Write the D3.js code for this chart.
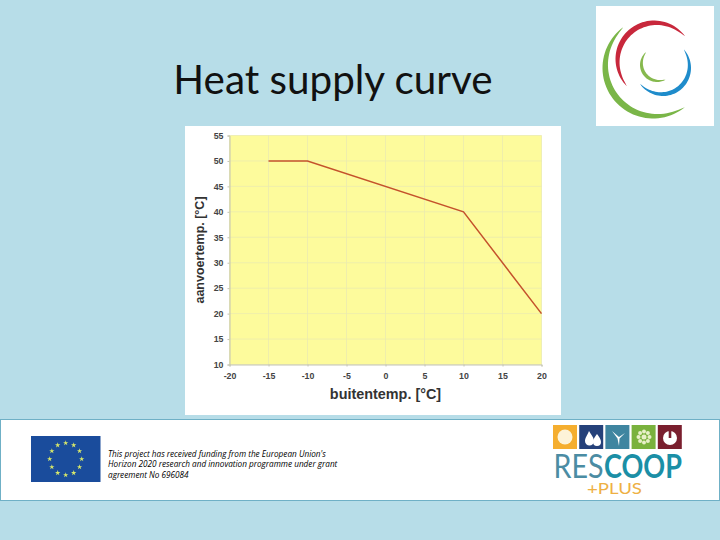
<!DOCTYPE html>
<html>
<head>
<meta charset="utf-8">
<script src="https://cdn.jsdelivr.net/npm/d3@7"></script>
<style>
html, body { margin: 0; padding: 0; background: #b7dde8; }
svg { display: block; }
</style>
</head>
<body>
<script>
// values
const outsideTemp = [-15, -10, 10, 20];
const supplyTemp = [50, 50, 40, 20];
const xTicks = [-20, -15, -10, -5, 0, 5, 10, 15, 20];
const yTicks = [10, 15, 20, 25, 30, 35, 40, 45, 50, 55];
const fundingLines = [
    "This project has received funding from the European Union's",
    "Horizon 2020 research and innovation programme under grant",
    "agreement No 696084"
];
const iconColors = ["#f5ae2f", "#25417a", "#3f85a0", "#7ab23d", "#7a1f2e"];

const svg = d3.select("body").append("svg")
    .attr("width", 720)
    .attr("height", 540);

svg.append("rect").attr("width", 720).attr("height", 540).attr("fill", "#b7dde8");

// title
svg.append("text")
    .attr("x", 333).attr("y", 94)
    .attr("text-anchor", "middle")
    .attr("font-family", "Lato")
    .attr("font-size", 40.4)
    .attr("fill", "#111")
    .text("Heat supply curve");

// chart panel
svg.append("rect")
    .attr("x", 185).attr("y", 126)
    .attr("width", 376).attr("height", 289)
    .attr("fill", "#fff");

const plot = {left: 229.5, right: 541.5, top: 135.5, bottom: 364.5};
const x = d3.scaleLinear().domain([-20, 20]).range([plot.left, plot.right]);
const y = d3.scaleLinear().domain([10, 55]).range([plot.bottom, plot.top]);

svg.append("rect")
    .attr("x", plot.left).attr("y", plot.top)
    .attr("width", plot.right - plot.left).attr("height", plot.bottom - plot.top)
    .attr("fill", "#fdfb9c");

// grid
svg.append("g")
    .selectAll("line")
    .data(xTicks)
    .join("line")
    .attr("x1", d => x(d)).attr("x2", d => x(d))
    .attr("y1", plot.top).attr("y2", plot.bottom)
    .attr("stroke", "#ebebae").attr("stroke-width", 0.8);
svg.append("g")
    .selectAll("line")
    .data(yTicks)
    .join("line")
    .attr("x1", plot.left).attr("x2", plot.right)
    .attr("y1", d => y(d)).attr("y2", d => y(d))
    .attr("stroke", "#ebebae").attr("stroke-width", 0.8);

// axes, hyphen minus on the labels like the original
const xAxis = svg.append("g")
    .attr("transform", "translate(0," + plot.bottom + ")")
    .call(d3.axisBottom(x).tickValues(xTicks).tickFormat(String).tickSize(2).tickPadding(6));
const yAxis = svg.append("g")
    .attr("transform", "translate(" + plot.left + ",0)")
    .call(d3.axisLeft(y).tickValues(yTicks).tickFormat(String).tickSize(2).tickPadding(4));
[xAxis, yAxis].forEach(a => {
    a.selectAll("path").attr("stroke", "#c4c4b4");
    a.selectAll("line").attr("stroke", "#c4c4b4");
    a.selectAll("text")
        .attr("font-family", "Liberation Sans")
        .attr("font-weight", "bold")
        .attr("font-size", 8.8)
        .attr("fill", "#444");
});

svg.append("text")
    .attr("x", 385.5).attr("y", 399)
    .attr("text-anchor", "middle")
    .attr("font-family", "Liberation Sans")
    .attr("font-weight", "bold")
    .attr("font-size", 14.4)
    .attr("fill", "#333")
    .text("buitentemp. [°C]");
svg.append("text")
    .attr("transform", "translate(204,250) rotate(-90)")
    .attr("text-anchor", "middle")
    .attr("font-family", "Liberation Sans")
    .attr("font-weight", "bold")
    .attr("font-size", 12.5)
    .attr("fill", "#333")
    .text("aanvoertemp. [°C]");

// the curve
svg.append("path")
    .datum(outsideTemp.map((d, i) => [d, supplyTemp[i]]))
    .attr("fill", "none")
    .attr("stroke", "#c4522c")
    .attr("stroke-width", 1.5)
    .attr("d", d3.line().x(d => x(d[0])).y(d => y(d[1])));

// logo top right, tapered arcs
svg.append("rect")
    .attr("x", 596).attr("y", 6)
    .attr("width", 118).attr("height", 120)
    .attr("fill", "#fff");

function crescent(cx, cy, r, a0, a1, w) {
    const steps = d3.range(0, 1.001, 0.02);
    const pt = (t, rr) => {
        const a = (a0 + (a1 - a0) * t) * Math.PI / 180;
        return [cx + rr * Math.cos(a), cy + rr * Math.sin(a)];
    };
    const outer = steps.map(t => pt(t, r));
    const inner = steps.slice().reverse().map(t => pt(t, r - w * Math.pow(Math.sin(Math.PI * t), 0.7)));
    return d3.line()(outer.concat(inner)) + "Z";
}
const swirls = [
    {c: [653, 68], r: 50.5, a: [234, 51], w: 6.5, fill: "#7ab648"},
    {c: [654, 59], r: 38.5, a: [135, 324], w: 5.5, fill: "#c8283c"},
    {c: [663, 68], r: 28, a: [-42, 145], w: 4.5, fill: "#1f8ccb"},
    {c: [657, 65], r: 17, a: [230, 60], w: 3.5, fill: "#86b94e"}
];
svg.append("g")
    .selectAll("path")
    .data(swirls)
    .join("path")
    .attr("fill", d => d.fill)
    .attr("d", d => crescent(d.c[0], d.c[1], d.r, d.a[0], d.a[1], d.w));

// footer band
svg.append("rect")
    .attr("x", 0.5).attr("y", 419.5)
    .attr("width", 719).attr("height", 81)
    .attr("fill", "#fff")
    .attr("stroke", "#6fb0c6");

// EU flag
svg.append("rect")
    .attr("x", 31).attr("y", 436)
    .attr("width", 69.5).attr("height", 46)
    .attr("fill", "#1a4c9c");
svg.append("g")
    .selectAll("path")
    .data(d3.range(12))
    .join("path")
    .attr("d", d3.symbol(d3.symbolStar, 9))
    .attr("fill", "#d8e86a")
    .attr("transform", d => {
        const a = d * Math.PI / 6;
        return "translate(" + (65.7 + 16 * Math.sin(a)) + "," + (459 - 16 * Math.cos(a)) + ")";
    });

svg.append("g")
    .selectAll("text")
    .data(fundingLines)
    .join("text")
    .attr("x", 108)
    .attr("y", (d, i) => 456.5 + i * 10.8)
    .attr("font-family", "Open Sans")
    .attr("font-style", "italic")
    .attr("font-size", 8.2)
    .attr("fill", "#000")
    .text(d => d);

// RESCOOP logo
svg.append("g")
    .selectAll("rect")
    .data(iconColors)
    .join("rect")
    .attr("x", (d, i) => 553 + i * 26.2)
    .attr("y", 425)
    .attr("width", 24).attr("height", 24)
    .attr("fill", d => d);
svg.append("circle").attr("cx", 565).attr("cy", 437).attr("r", 7.5).attr("fill", "#fdf3d8");
svg.append("path").attr("d", "M589,431C592,436 594,438 594,441A4.5,4.5 0 0 1 585,441C585,438 587,436 589,431Z").attr("fill", "#fff");
svg.append("path").attr("d", "M597,434C599,437 601,439 601,442A4,4 0 0 1 593,442C593,439 595,437 597,434Z").attr("fill", "#fff");
svg.append("path").attr("d", "M612,431L619,437L625,433L619.5,438.5L619,446L617.5,438.5Z").attr("fill", "#fff");
svg.append("g")
    .selectAll("circle")
    .data(d3.range(8))
    .join("circle")
    .attr("cx", d => 644 + 5.5 * Math.cos(d * Math.PI / 4))
    .attr("cy", d => 437 + 5.5 * Math.sin(d * Math.PI / 4))
    .attr("r", 2)
    .attr("fill", "#e8f0c8");
svg.append("circle").attr("cx", 644).attr("cy", 437).attr("r", 2.5).attr("fill", "#e8f0c8");
svg.append("circle").attr("cx", 670).attr("cy", 438).attr("r", 7).attr("fill", "#fff");
svg.append("rect").attr("x", 668.7).attr("y", 430).attr("width", 2.6).attr("height", 8).attr("fill", "#7a1f2e");

svg.append("text")
    .attr("x", 553.5).attr("y", 478)
    .attr("font-family", "Lato").attr("font-size", 32)
    .attr("textLength", 50).attr("lengthAdjust", "spacingAndGlyphs")
    .attr("fill", "#4b8ca3")
    .text("RES");
svg.append("text")
    .attr("x", 604).attr("y", 478)
    .attr("font-family", "Lato").attr("font-weight", "bold").attr("font-size", 32)
    .attr("textLength", 78).attr("lengthAdjust", "spacingAndGlyphs")
    .attr("fill", "#1b8fa6")
    .text("COOP");
svg.append("text")
    .attr("x", 587).attr("y", 494)
    .attr("font-family", "Lato").attr("font-size", 15)
    .attr("textLength", 55).attr("lengthAdjust", "spacingAndGlyphs")
    .attr("fill", "#eeb044")
    .text("+PLUS");
</script>
</body>
</html>
